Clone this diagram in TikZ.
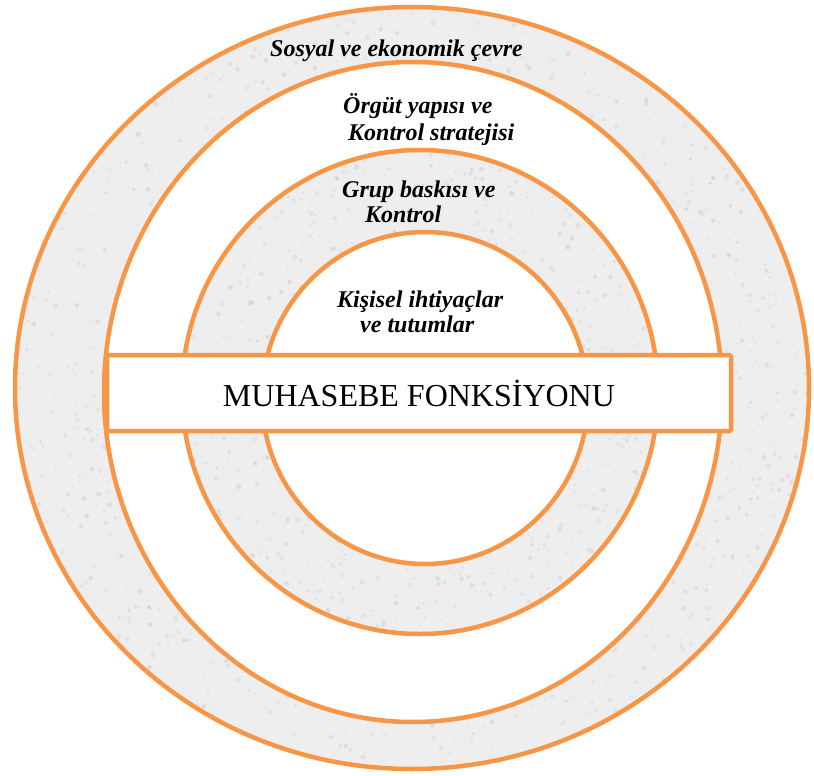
\documentclass[tikz,border=0pt]{standalone}
\usepackage{fontspec}
\setmainfont{Liberation Serif}
\definecolor{ringorange}{HTML}{F79646}
\definecolor{ringgray}{HTML}{EEEEEE}
\definecolor{speck}{HTML}{BBBBBB}
\tikzset{
  ringline/.style={draw=ringorange, line width=4.5pt},
  layerlabel/.style={anchor=base west, inner sep=0pt, font=\fontsize{24}{28}\selectfont\bfseries\itshape},
  funcbox/.style={draw=ringorange, line width=4.5pt, fill=white, rounded corners=1.5pt,
    minimum width=624pt, minimum height=76pt, inner sep=0pt,
    font=\fontsize{32}{36}\selectfont}
}
\begin{document}
\begin{tikzpicture}[x=1pt,y=-1pt]
  \useasboundingbox (0,0) rectangle (814,776);
  % ring shapes
  \def\ringA{(412,388) ellipse [x radius=397pt, y radius=381pt]}
  \def\ringB{(413,392) ellipse [x radius=309pt, y radius=330pt]}
  \def\ringC{(420,392) ellipse [x radius=238pt, y radius=242pt]}
  \def\ringD{(425,398) ellipse [x radius=163pt, y radius=166pt]}
  % flat fills
  \fill[ringgray] \ringA;
  \fill[white] \ringB;
  \fill[ringgray] \ringC;
  \fill[white] \ringD;
  % stone-like grain on the two grey rings
  \pgfmathsetseed{4711}
  \begin{scope}[even odd rule]
    \clip \ringA \ringB;
    \foreach \i in {1,...,2600}{
      \pgfmathsetmacro{\px}{15+795*rnd}
      \pgfmathsetmacro{\py}{6+764*rnd}
      \pgfmathsetmacro{\pr}{0.8+1.8*rnd}
      \pgfmathsetmacro{\po}{0.10+0.25*rnd}
      \fill[speck, opacity=\po] (\px,\py) circle[radius=\pr pt];
    }
  \end{scope}
  \begin{scope}[even odd rule]
    \clip \ringC \ringD;
    \foreach \i in {1,...,1300}{
      \pgfmathsetmacro{\px}{182+476*rnd}
      \pgfmathsetmacro{\py}{150+484*rnd}
      \pgfmathsetmacro{\pr}{0.8+1.8*rnd}
      \pgfmathsetmacro{\po}{0.10+0.25*rnd}
      \fill[speck, opacity=\po] (\px,\py) circle[radius=\pr pt];
    }
  \end{scope}
  % ring outlines
  \draw[ringline] \ringA;
  \draw[ringline] \ringB;
  \draw[ringline] \ringC;
  \draw[ringline] \ringD;
  % central band
  \node[funcbox] (func) at (419,393) {MUHASEBE FONKSİYONU};
  % ring labels
  \node[layerlabel] (env)  at (270,57)  {Sosyal ve ekonomik çevre};
  \node[layerlabel] (orgA) at (343,113) {Örgüt yapısı ve};
  \node[layerlabel] (orgB) at (348,140) {Kontrol stratejisi};
  \node[layerlabel] (grpA) at (342,197) {Grup baskısı ve};
  \node[layerlabel] (grpB) at (365,222) {Kontrol};
  \node[layerlabel] (perA) at (337,307) {Kişisel ihtiyaçlar};
  \node[layerlabel] (perB) at (360,332) {ve tutumlar};
\end{tikzpicture}
\end{document}
